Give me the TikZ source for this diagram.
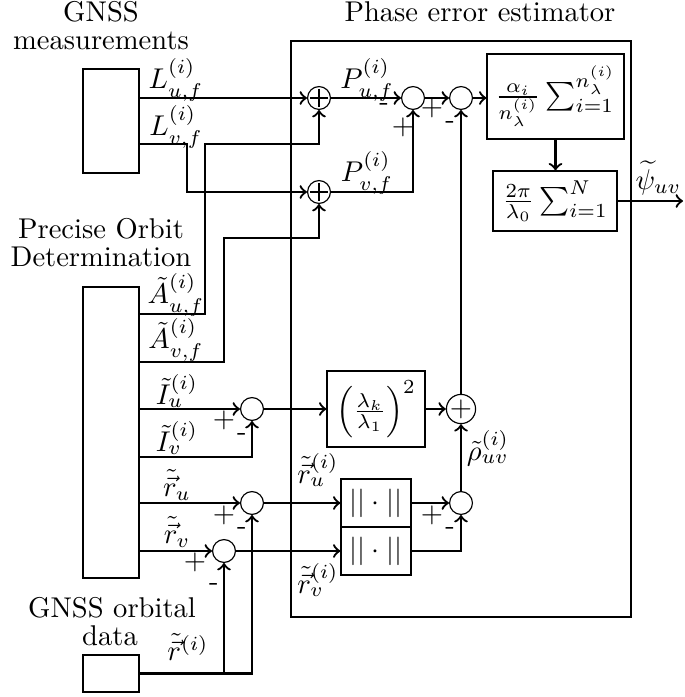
\documentclass[tikz,border=0pt]{standalone}
\usepackage{amsmath}
\begin{document}
\begin{tikzpicture}[x=0.35pt,y=-0.35pt,
  wire/.style={thick,->},
  src/.style={draw,thick,minimum width=19.6pt,inner sep=0pt},
  blk/.style={draw,thin,inner sep=0pt},
  sumc/.style={draw,thin,circle,minimum size=8pt,inner sep=0pt},
  plusc/.style={sumc,path picture={\draw[thin] ([yshift=-0.8pt]path picture bounding box.north) -- ([yshift=0.8pt]path picture bounding box.south) ([xshift=0.8pt]path picture bounding box.west) -- ([xshift=-0.8pt]path picture bounding box.east);}},
  bigplus/.style={draw,thin,circle,inner sep=0pt},
  sgn/.style={inner sep=0pt},
  lbl/.style={inner sep=0pt},
  ttl/.style={anchor=base,inner sep=0pt}]
\useasboundingbox (0,0) rectangle (684,697);

% titles
\node[ttl] (t1) at (101,22) {GNSS};
\node[ttl] (t2) at (101,50) {measurements};
\node[ttl] (t3) at (101,239) {Precise Orbit};
\node[ttl] (t4) at (101,267) {Determination};
\node[ttl] (t5) at (112,617) {GNSS orbital};
\node[ttl] (t6) at (110,645) {data};
\node[ttl] (t7) at (480,22) {Phase error estimator};

% blocks
\node[src,minimum height=36.4pt] (meas) at (111,121) {};
\node[src,minimum height=101.85pt] (pod) at (111,432.5) {};
\node[src,minimum height=12.95pt] (orb) at (111,673.5) {};
\node[draw,thick,minimum width=119pt,minimum height=201.6pt,inner sep=0pt] (pee) at (461,329) {};
\node[blk,minimum width=47.95pt,minimum height=29.75pt] (avg) at (555.5,96.5) {$\frac{\alpha_i}{n_\lambda^{(i)}}\sum_{i=1}^{n_\lambda^{(i)}}$};
\node[blk,minimum width=43.4pt,minimum height=21pt] (tot) at (555,201) {$\frac{2\pi}{\lambda_0}\sum_{i=1}^{N}$};
\node[blk,minimum width=34.3pt,minimum height=26.6pt] (lam) at (376,409) {$\left(\frac{\lambda_k}{\lambda_1}\right)^2$};
\node[blk,minimum width=24.5pt,minimum height=16.8pt] (nu) at (376,503) {$||\cdot||$};
\node[blk,minimum width=24.5pt,minimum height=16.8pt] (nv) at (376,551) {$||\cdot||$};

% summing junctions
\node[plusc] (s1) at (319,98) {};
\node[plusc] (s2) at (319,192) {};
\node[sumc] (s3) at (413,98) {};
\node[sumc] (s4) at (461,98) {};
\node[bigplus] (s5) at (461,409) {$+$};
\node[sumc] (sI) at (252,409) {};
\node[sumc] (sru) at (252,503) {};
\node[sumc] (srv) at (224,551) {};
\node[sumc] (srho) at (461,503) {};

% turning points
\coordinate (lv) at (139,144);
\coordinate (lvk) at (187,192);
\coordinate (au) at (139,314);
\coordinate (auk) at (205,144);
\coordinate (av) at (139,362);
\coordinate (avk) at (224,238);
\coordinate (iv) at (139,457);
\coordinate (out) at (683,201);

% connectors
\draw[wire] (meas.east |- s1) -- (s1);
\draw[wire] (lv) -| (lvk) -- (s2);
\draw[wire] (au) -| (auk) -| (s1.south);
\draw[wire] (av) -| (avk) -| (s2.south);
\draw[wire] (s1) -- (s3);
\draw[wire] (s2) -| (s3.south);
\draw[wire] (s3) -- (s4);
\draw[wire] (s4) -- (avg.west |- s4);
\draw[wire] (avg.south) -- (avg.south |- tot.north);
\draw[wire] (tot) -- (out);
\draw[wire] (pod.east |- sI) -- (sI);
\draw[wire] (iv) -| (sI.south);
\draw[wire] (sI) -- (lam);
\draw[wire] (lam) -- (s5);
\draw[wire] (s5) -- (s4);
\draw[wire] (pod.east |- sru) -- (sru);
\draw[wire] (pod.east |- srv) -- (srv);
\draw[wire] (orb.east) -| (sru.south);
\draw[wire] (orb.east -| srv) -- (srv.south);
\draw[wire] (sru) -- (nu);
\draw[wire] (srv) -- (nv);
\draw[wire] (nu) -- (srho);
\draw[wire] (nv.east) -| (srho.south);
\draw[wire] (srho) -- (s5);

% signal labels
\node[lbl] (lLu) at (176,80) {$L_{u,f}^{(i)}$};
\node[lbl] (lLv) at (176,127) {$L_{v,f}^{(i)}$};
\node[lbl] (lPu) at (367,80) {$P_{u,f}^{(i)}$};
\node[lbl] (lPv) at (367,173) {$P_{v,f}^{(i)}$};
\node[lbl,anchor=west] (lpsi) at (635,178) {$\widetilde{\psi}_{uv}$};
\node[lbl] (lAu) at (176,295) {$\tilde{A}_{u,f}^{(i)}$};
\node[lbl] (lAv) at (176,340) {$\tilde{A}_{v,f}^{(i)}$};
\node[lbl] (lIu) at (177,391) {$\tilde{I}_{u}^{(i)}$};
\node[lbl] (lIv) at (177,438) {$\tilde{I}_{v}^{(i)}$};
\node[lbl] (lru) at (177,485) {$\tilde{\vec{r}}_{u}$};
\node[lbl] (lrv) at (177,532) {$\tilde{\vec{r}}_{v}$};
\node[lbl] (lr) at (188,647) {$\tilde{\vec{r}}^{(i)}$};
\node[lbl] (lrui) at (318,470) {$\tilde{\vec{r}}_{u}^{(i)}$};
\node[lbl] (lrvi) at (318,580) {$\tilde{\vec{r}}_{v}^{(i)}$};
\node[lbl] (lrho) at (488,448) {$\tilde{\rho}_{uv}^{(i)}$};

% signs
\node[sgn] (g1) at ([shift={(-29,9)}]s3) {-};
\node[sgn] (g2) at ([shift={(-10,29)}]s3) {+};
\node[sgn] (g3) at ([shift={(-29,10)}]s4) {+};
\node[sgn] (g4) at ([shift={(-11,27)}]s4) {-};
\node[sgn] (g5) at ([shift={(-28,11)}]sI) {+};
\node[sgn] (g6) at ([shift={(-10,28)}]sI) {-};
\node[sgn] (g7) at ([shift={(-28,12)}]sru) {+};
\node[sgn] (g8) at ([shift={(-10,28)}]sru) {-};
\node[sgn] (g9) at ([shift={(-29,11)}]srv) {+};
\node[sgn] (g10) at ([shift={(-10,36)}]srv) {-};
\node[sgn] (g11) at ([shift={(-29,12)}]srho) {+};
\node[sgn] (g12) at ([shift={(-11,28)}]srho) {-};
\end{tikzpicture}
\end{document}
